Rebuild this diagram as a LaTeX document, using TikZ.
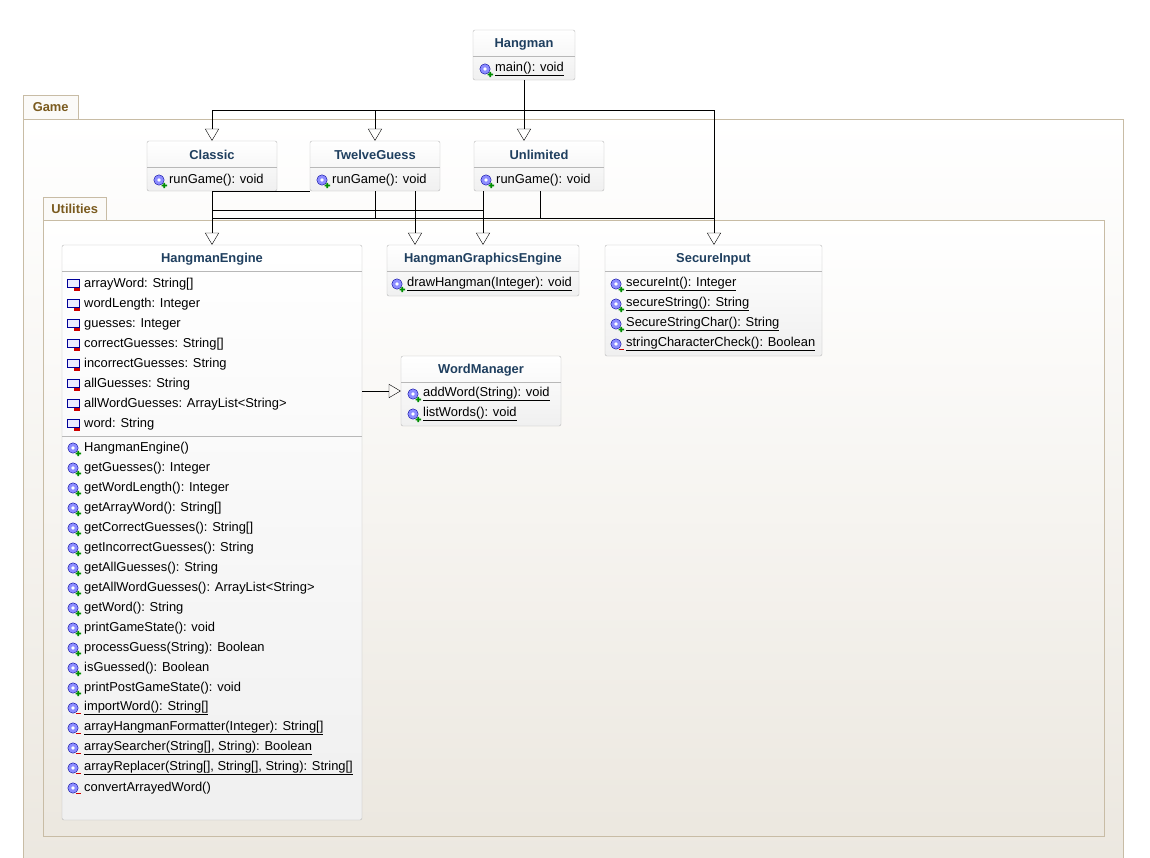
\documentclass[tikz,border=0pt]{standalone}
\usepackage{fontspec}
\setmainfont{Liberation Sans}
\usetikzlibrary{arrows.meta,positioning}
\definecolor{hdr}{HTML}{1F3F5F}
\definecolor{pkgline}{HTML}{C8BCA5}
\definecolor{pkgtxt}{HTML}{7A5A1E}
\definecolor{clsline}{HTML}{B8B8B8}

\begin{document}
\begin{tikzpicture}[x=1pt, y=-1pt, font=\fontsize{12.9}{14}\selectfont]
\tikzset{
    pkg/.style= {draw=pkgline, top color=white, bottom color=pkgline!35},
    pkgtab/.style= {draw=pkgline, fill=white!92!pkgline, font=\fontsize{12.9}{14}\selectfont\bfseries, text=pkgtxt, inner sep=4pt},
    cls/.style= {draw=clsline, rounded corners=2pt, top color=white, bottom color=gray!12},
    title/.style= {font=\fontsize{12.9}{14}\selectfont\bfseries, text=hdr},
    row/.style= {anchor=west, inner sep=0pt},
    gen/.style= {-{Triangle[open, width=14pt, length=12pt]}, black},
    link/.style= {black},
    attr/.pic= {\draw[blue!60!black, fill=blue!8] (-6,-4.5) rectangle (6,3.5); \fill[red!80!black] (1,4) rectangle (7,6.5);},
    pub/.pic= {\draw[blue!60!black, fill=blue!45] (0,0) circle (5.2); \fill[white] (0,0) circle (1.8);
        \fill[green!55!black] (2.5,4.6) rectangle (8,6.4) (4.35,2.8) rectangle (6.15,8.2);},
    priv/.pic= {\draw[blue!60!black, fill=blue!45] (0,0) circle (5.2); \fill[white] (0,0) circle (1.8);
        \fill[red!80!black] (2.5,4.6) rectangle (8,6.4);},
}
\useasboundingbox (0,0) rectangle (1150,857);

% packages
\node[pkgtab, anchor=north west, minimum width=55pt, minimum height=24pt] (game) at (23,95) {Game};
\draw[pkg] (23,119) rectangle (1123,870);
\node[pkgtab, anchor=north west, minimum width=63pt, minimum height=23pt] (util) at (43,197) {Utilities};
\draw[pkg] (43,220) rectangle (1104,836);

% classes
\node[cls, minimum width=102pt, minimum height=50pt] (hangman) at (524,55) {};
\draw[clsline] (473,56) -- (575,56);
\node[title] (hangman-t) at (524,44) {Hangman};
\pic at (485,69) {pub}; \node[row] (hangman-m) at (495,69) {\underline{main(): void}};

\foreach \n/\x/\t in {classic/212/Classic, twelve/375/TwelveGuess, unlim/539/Unlimited} {
    \node[cls, minimum width=130pt, minimum height=50pt] (\n) at (\x,166) {};
    \draw[clsline] (\x-65,167) -- (\x+65,167);
    \node[title] (\n-t) at (\x,155) {\t};
    \pic at (\x-53,180) {pub}; \node[row] (\n-m) at (\x-43,180) {runGame(): void};
}

\node[cls, minimum width=300pt, minimum height=575pt] (engine) at (212,532.5) {};
\draw[clsline] (62,271) -- (362,271) (62,436) -- (362,436);
\node[title] (engine-t) at (212,259) {HangmanEngine};
\foreach \t [count=\i] in {{arrayWord: String[]}, {wordLength: Integer}, {guesses: Integer},
    {correctGuesses: String[]}, {incorrectGuesses: String}, {allGuesses: String},
    {allWordGuesses: ArrayList<String>}, {word: String}} {
    \pic at (73,264+20*\i) {attr}; \node[row] (engine-a\i) at (84,264+20*\i) {\t};
}
\foreach \k/\t [count=\i] in {pub/{HangmanEngine()}, pub/{getGuesses(): Integer}, pub/{getWordLength(): Integer},
    pub/{getArrayWord(): String[]}, pub/{getCorrectGuesses(): String[]}, pub/{getIncorrectGuesses(): String},
    pub/{getAllGuesses(): String}, pub/{getAllWordGuesses(): ArrayList<String>}, pub/{getWord(): String},
    pub/{printGameState(): void}, pub/{processGuess(String): Boolean}, pub/{isGuessed(): Boolean},
    pub/{printPostGameState(): void}, priv/{\underline{importWord(): String[]}},
    priv/{\underline{arrayHangmanFormatter(Integer): String[]}}, priv/{\underline{arraySearcher(String[], String): Boolean}},
    priv/{\underline{arrayReplacer(String[], String[], String): String[]}}, priv/{convertArrayedWord()}} {
    \pic at (73,428+20*\i) {\k}; \node[row] (engine-m\i) at (84,428+20*\i) {\t};
}

\node[cls, minimum width=192pt, minimum height=51pt] (graphics) at (483,270.5) {};
\draw[clsline] (387,271) -- (579,271);
\node[title] (graphics-t) at (483,259) {HangmanGraphicsEngine};
\pic at (397,284) {pub}; \node[row] (graphics-m) at (407,284) {\underline{drawHangman(Integer): void}};

\node[cls, minimum width=217pt, minimum height=111pt] (secure) at (713.5,300.5) {};
\draw[clsline] (605,271) -- (822,271);
\node[title] (secure-t) at (713.5,259) {SecureInput};
\foreach \k/\t [count=\i] in {pub/{secureInt(): Integer}, pub/{secureString(): String},
    pub/{SecureStringChar(): String}, priv/{stringCharacterCheck(): Boolean}} {
    \pic at (616,264+20*\i) {\k}; \node[row] (secure-m\i) at (626,264+20*\i) {\underline{\t}};
}

\node[cls, minimum width=160pt, minimum height=70pt] (words) at (481,391) {};
\draw[clsline] (401,382) -- (561,382);
\node[title] (words-t) at (481,370) {WordManager};
\pic at (413,394) {pub}; \node[row] (words-m1) at (423,394) {\underline{addWord(String): void}};
\pic at (413,414) {pub}; \node[row] (words-m2) at (423,414) {\underline{listWords(): void}};

% connectors
\coordinate (top) at (524,110);
\draw[link] (hangman) -- (top);
\draw[gen] (top) -- (unlim.north -| top);
\draw[gen] (top) -| (classic);
\draw[gen] (top) -| (twelve);
\draw[gen] (top) -| (secure.north -| 714,0);
\draw[gen] (classic) -- (engine.north -| classic);
\draw[link] (twelve.south west) -- (classic.south -| 212,191);
\draw[gen] (twelve.south -| 415,0) -- (graphics.north -| 415,0);
\draw[gen] (unlim.south -| 483,0) -- (graphics.north -| 483,0);
\draw[link] (212,210) -- (483,210);
\draw[link] (212,218) -- (714,218);
\draw[link] (twelve.south) -- (375,218);
\draw[link] (unlim.south -| 540,0) -- (540,218);
\draw[gen] (engine.east |- 0,391) -- (words.west |- 0,391);
\end{tikzpicture}
\end{document}
